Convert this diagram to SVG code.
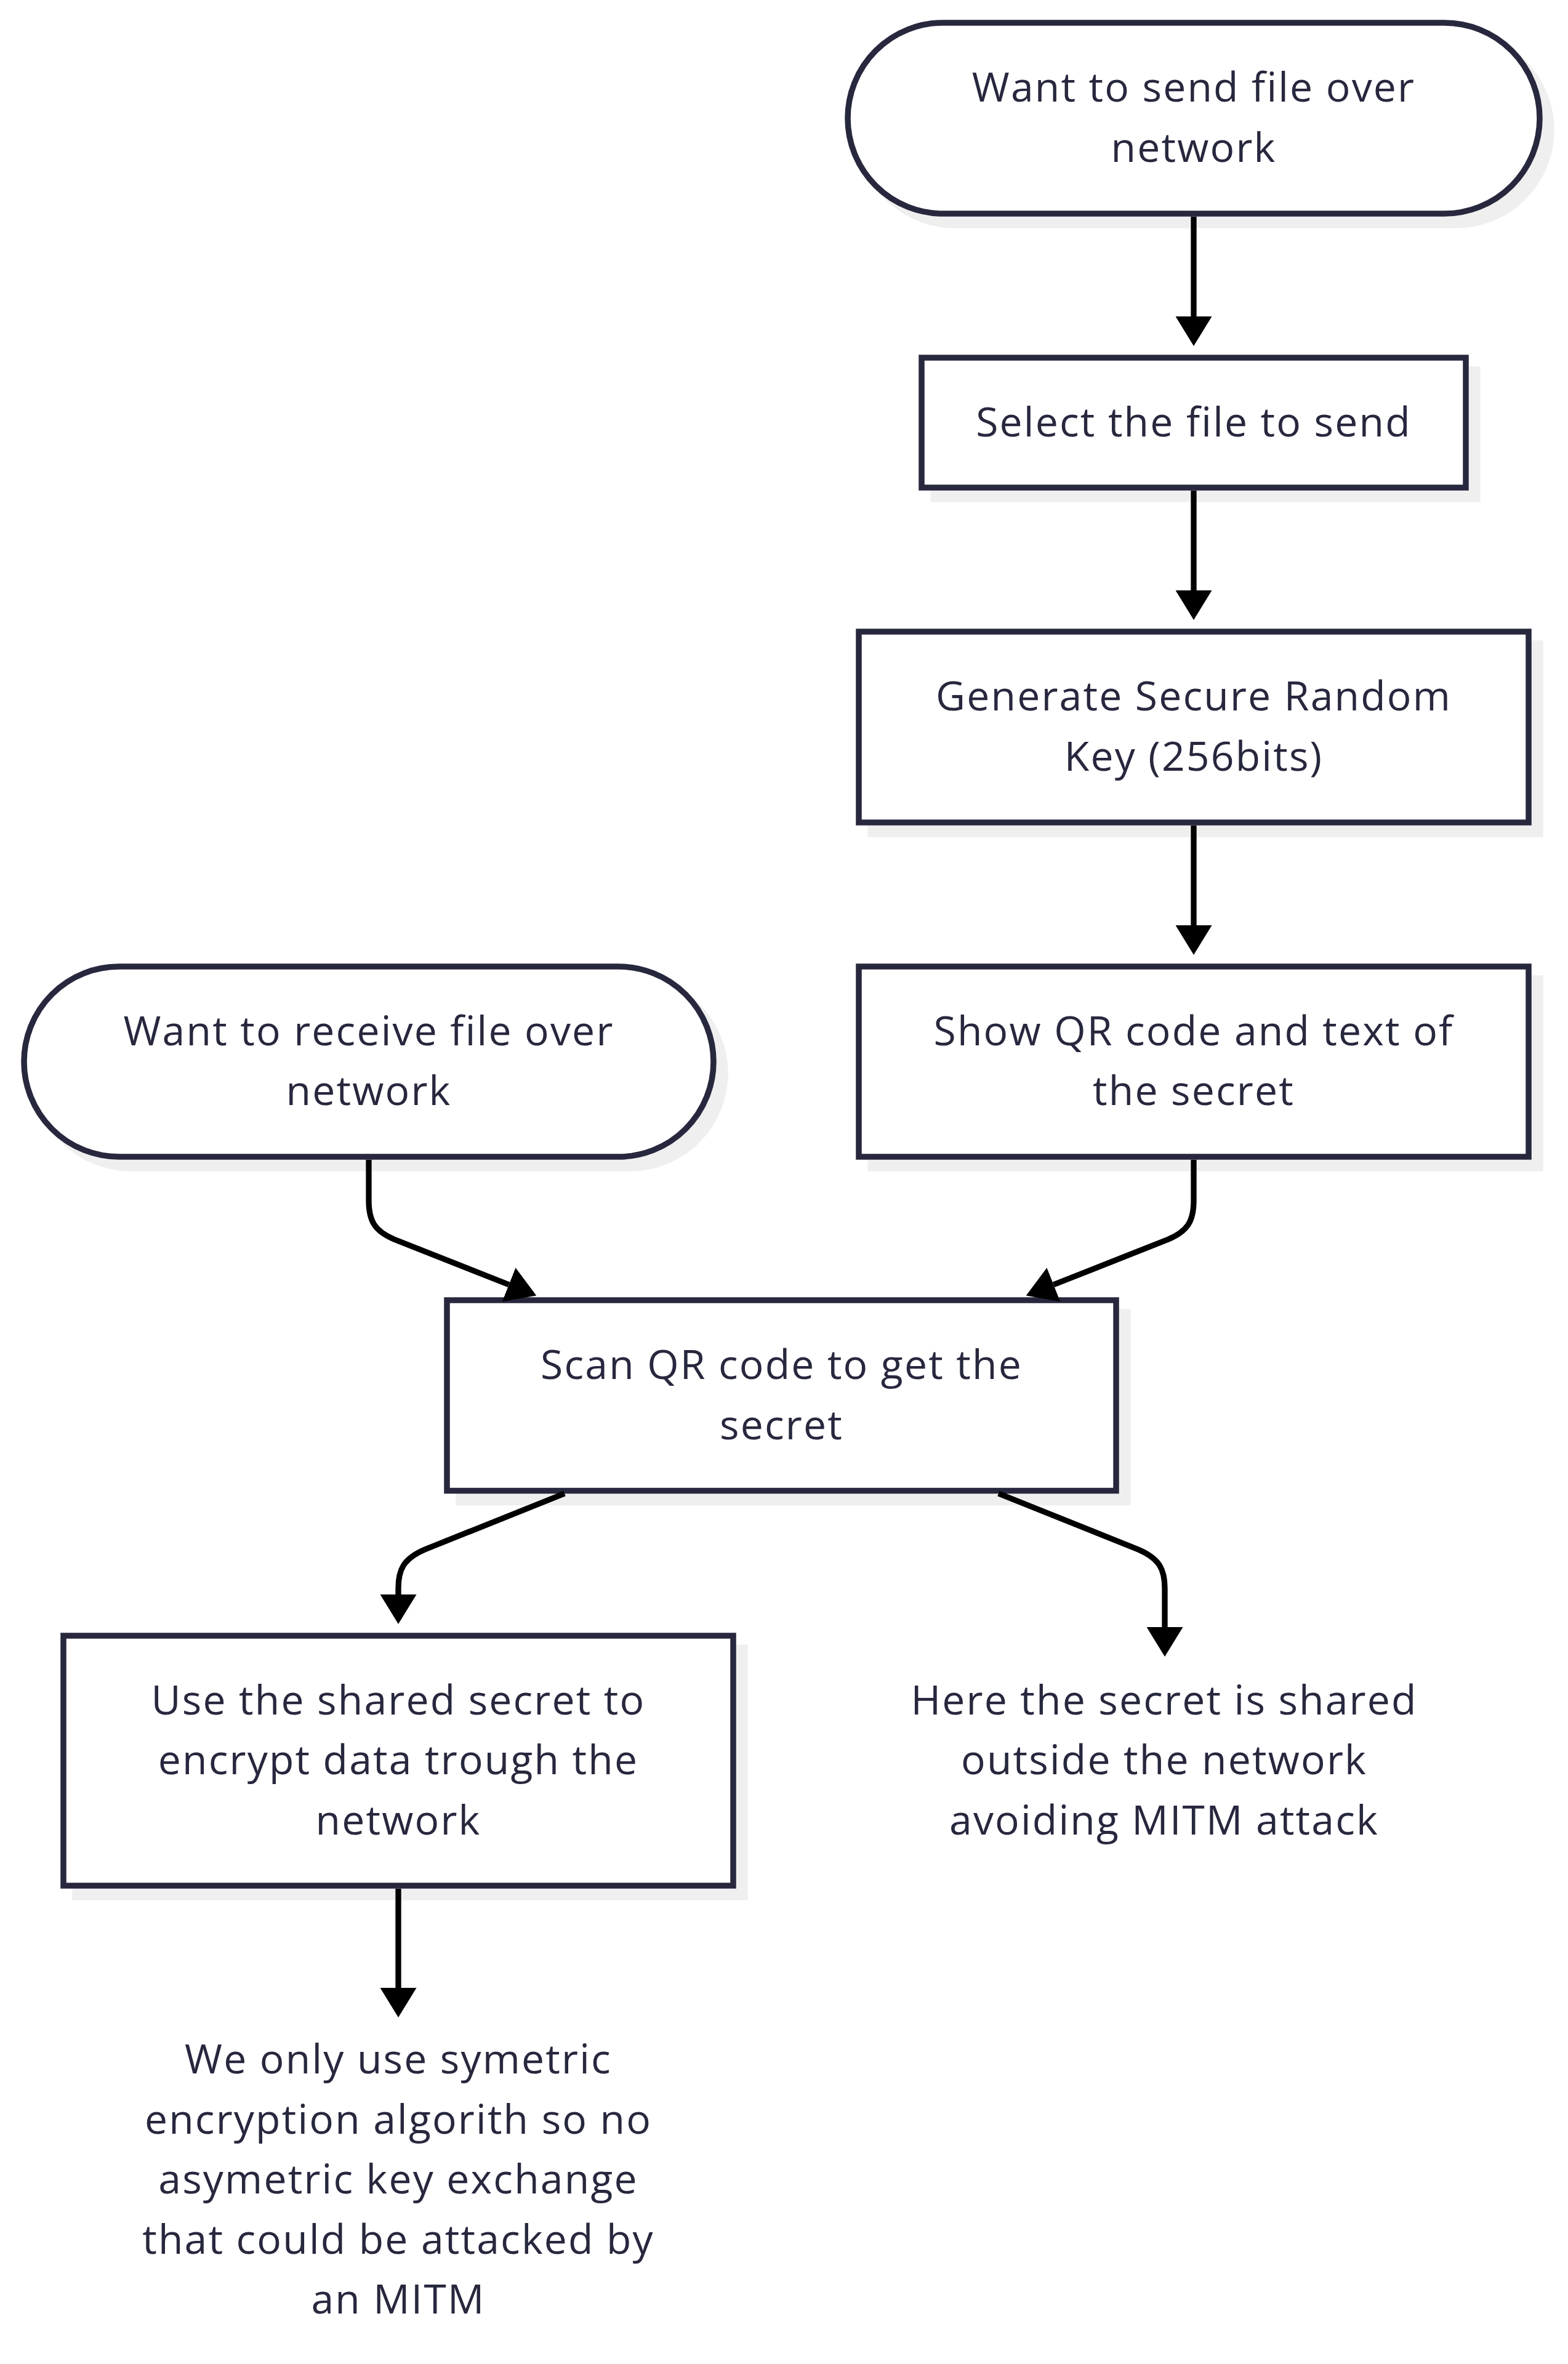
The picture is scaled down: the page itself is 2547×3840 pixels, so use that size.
<svg xmlns="http://www.w3.org/2000/svg" width="2547" height="3840" viewBox="0 0 2547 3840">
<style>
.shadow{fill:#efefef;stroke:#efefef;stroke-width:9.5}
.node{fill:#ffffff;stroke:#27273e;stroke-width:9.5}
.lbl{font-family:"Open Sans","Liberation Sans",sans-serif;font-size:66px;fill:#27273e;text-anchor:middle;letter-spacing:2.2px}
.edge{fill:none;stroke:#000000;stroke-width:9.3}
</style>
<defs>
<marker id="arrow" viewBox="0 0 10 10" refX="0" refY="5" markerUnits="userSpaceOnUse" markerWidth="48" markerHeight="59" orient="auto" preserveAspectRatio="none">
<path d="M0,0 L10,5 L0,10 z" fill="#000000"/>
</marker>
</defs>
<rect width="2547" height="3840" fill="#ffffff"/>

<g id="node-send-start">
<rect class="shadow" x="1396" y="56" width="1124" height="310" rx="155" ry="155"/>
<rect class="node" x="1377" y="37" width="1124" height="310" rx="155" ry="155"/>
<text class="lbl" x="1939" y="165">Want to send file over</text>
<text class="lbl" x="1939" y="263">network</text>
</g>

<g id="node-select">
<rect class="shadow" x="1516" y="600" width="884" height="211"/>
<rect class="node" x="1497" y="581" width="884" height="211"/>
<text class="lbl" x="1939" y="708.5">Select the file to send</text>
</g>

<g id="node-generate">
<rect class="shadow" x="1414" y="1045" width="1088" height="310"/>
<rect class="node" x="1395" y="1026" width="1088" height="310"/>
<text class="lbl" x="1939" y="1154">Generate Secure Random</text>
<text class="lbl" x="1939" y="1252">Key (256bits)</text>
</g>

<g id="node-showqr">
<rect class="shadow" x="1414" y="1589" width="1088" height="309"/>
<rect class="node" x="1395" y="1570" width="1088" height="309"/>
<text class="lbl" x="1939" y="1697.75">Show QR code and text of</text>
<text class="lbl" x="1939" y="1795.25">the secret</text>
</g>

<g id="node-receive-start">
<rect class="shadow" x="58" y="1589" width="1120" height="309" rx="154.5" ry="154.5"/>
<rect class="node" x="39" y="1570" width="1120" height="309" rx="154.5" ry="154.5"/>
<text class="lbl" x="599" y="1697.75">Want to receive file over</text>
<text class="lbl" x="599" y="1795.25">network</text>
</g>

<g id="node-scan">
<rect class="shadow" x="745" y="2131" width="1087" height="309.5"/>
<rect class="node" x="726" y="2112" width="1087" height="309.5"/>
<text class="lbl" x="1269.5" y="2240.25">Scan QR code to get the</text>
<text class="lbl" x="1269.5" y="2337.75">secret</text>
</g>

<g id="node-use">
<rect class="shadow" x="122" y="2676" width="1088" height="406"/>
<rect class="node" x="103" y="2657" width="1088" height="406"/>
<text class="lbl" x="647" y="2784.5">Use the shared secret to</text>
<text class="lbl" x="647" y="2882">encrypt data trough the</text>
<text class="lbl" x="647" y="2979.5">network</text>
</g>

<g id="node-note-outside">
<text class="lbl" x="1891" y="2784.5">Here the secret is shared</text>
<text class="lbl" x="1891" y="2882">outside the network</text>
<text class="lbl" x="1891" y="2979.5">avoiding MITM attack</text>
</g>

<g id="node-note-symmetric">
<text class="lbl" x="647" y="3368">We only use symetric</text>
<text class="lbl" x="647" y="3465.5">encryption algorith so no</text>
<text class="lbl" x="647" y="3563">asymetric key exchange</text>
<text class="lbl" x="647" y="3660.5">that could be attacked by</text>
<text class="lbl" x="647" y="3758">an MITM</text>
</g>

<g id="connectors">
<path class="edge" d="M1939,352 L1939,514" marker-end="url(#arrow)"/>
<path class="edge" d="M1939,797 L1939,959" marker-end="url(#arrow)"/>
<path class="edge" d="M1939,1341 L1939,1503" marker-end="url(#arrow)"/>
<path class="edge" d="M599,1884 L599,1950 C599,1985 610,2000 640,2013 L826.6,2086.8" marker-end="url(#arrow)"/>
<path class="edge" d="M1939,1884 L1939,1950 C1939,1985 1928,2000 1898,2013 L1711.4,2086.8" marker-end="url(#arrow)"/>
<path class="edge" d="M917,2426 L690,2517 C655,2532 647,2550 647,2580 L647,2590" marker-end="url(#arrow)"/>
<path class="edge" d="M1622,2426 L1849,2517 C1884,2532 1892,2550 1892,2580 L1892,2643" marker-end="url(#arrow)"/>
<path class="edge" d="M647,3068 L647,3229" marker-end="url(#arrow)"/>
</g>
</svg>
